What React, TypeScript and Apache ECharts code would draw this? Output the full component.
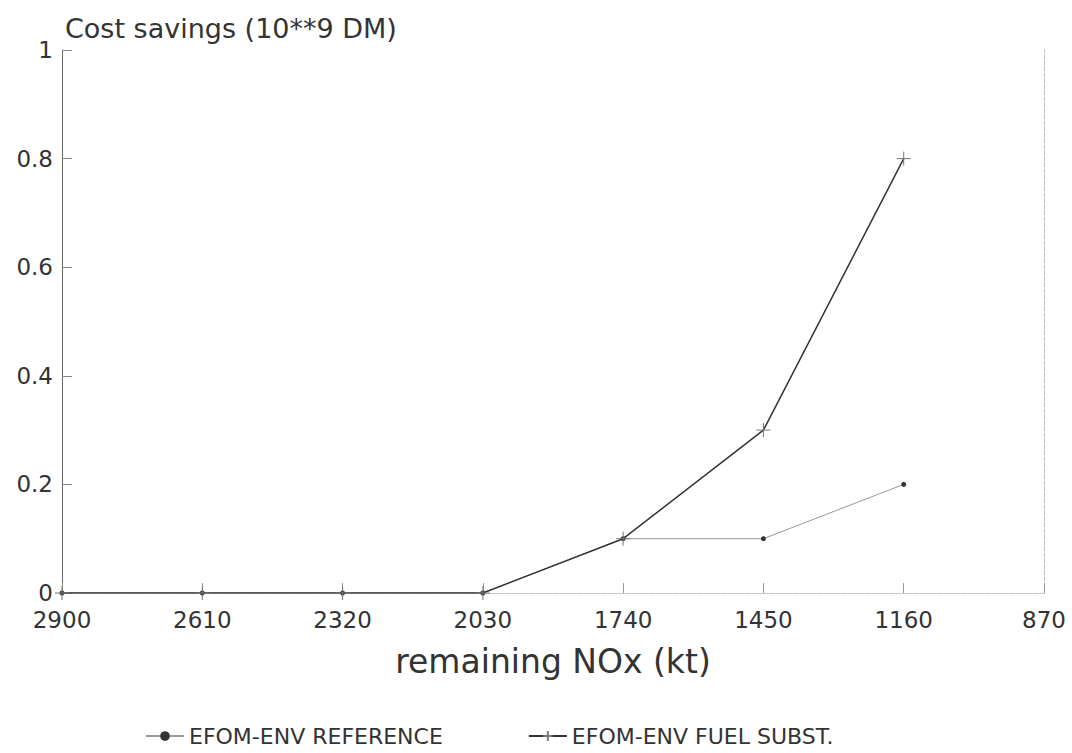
import React, { useEffect, useRef } from "react";
import * as echarts from "echarts";

const noxKt = [2900, 2610, 2320, 2030, 1740, 1450, 1160];
const referenceSavings = [0, 0, 0, 0, 0.1, 0.1, 0.2];
const fuelSubstSavings = [0, 0, 0, 0, 0.1, 0.3, 0.8];
const seriesNames = ["EFOM-ENV REFERENCE", "EFOM-ENV FUEL SUBST."];
const yTitle = "Cost savings (10**9 DM)";
const xTitle = "remaining NOx (kt)";

const FONT = "'DejaVu Sans', 'Liberation Sans', sans-serif";
const TXT = "#333";

export default function App() {
  const ref = useRef<HTMLDivElement>(null);
  useEffect(() => {
    document.body.style.margin = "0";
    const chart = echarts.init(ref.current!, null, { renderer: "svg" });
    const plus = "path://M5,0L5,10M0,5L10,5";
    chart.setOption({
      animation: false,
      backgroundColor: "#ffffff",
      title: {
        text: yTitle,
        left: 60,
        top: 10,
        textStyle: { fontFamily: FONT, fontSize: 27, fontWeight: "normal", color: TXT },
      },
      grid: { left: 62, right: 28, top: 50, bottom: 160, containLabel: false },
      legend: {
        top: 720,
        left: 140,
        itemWidth: 38,
        itemHeight: 12,
        itemGap: 85,
        textStyle: { fontFamily: FONT, fontSize: 22, color: TXT },
        data: seriesNames,
      },
      xAxis: [
        {
          type: "value",
          inverse: true,
          min: 870,
          max: 2900,
          interval: 290,
          name: xTitle,
          nameLocation: "middle",
          nameGap: 52,
          nameTextStyle: { fontFamily: FONT, fontSize: 33, color: TXT },
          axisLine: { show: true, lineStyle: { color: "#aaa", type: "dashed", width: 1 } },
          axisTick: { show: true, inside: true, length: 10, lineStyle: { color: "#999" } },
          axisLabel: {
            fontFamily: FONT,
            fontSize: 23,
            color: TXT,
            margin: 15,
            formatter: (v: number) => String(v),
          },
          splitLine: { show: false },
        },
        {
          type: "value",
          position: "top",
          inverse: true,
          min: 870,
          max: 2900,
          interval: 290,
          axisLine: { show: true, lineStyle: { color: "#c8c8c8", type: "dashed", width: 1 } },
          axisTick: { show: false },
          axisLabel: { show: false },
          splitLine: { show: false },
        },
      ],
      yAxis: [
        {
          type: "value",
          min: 0,
          max: 1,
          interval: 0.2,
          axisLine: { show: true, lineStyle: { color: "#666", width: 1 } },
          axisTick: { show: true, inside: true, length: 10, lineStyle: { color: "#888" } },
          axisLabel: { fontFamily: FONT, fontSize: 23, color: TXT, margin: 9 },
          splitLine: { show: false },
        },
        {
          type: "value",
          position: "right",
          min: 0,
          max: 1,
          interval: 0.2,
          axisLine: { show: true, lineStyle: { color: "#bbb", type: "dashed", width: 1 } },
          axisTick: { show: false },
          axisLabel: { show: false },
          splitLine: { show: false },
        },
      ],
      series: [
        {
          name: seriesNames[0],
          type: "line",
          data: noxKt.map((x, i) => [x, referenceSavings[i]]),
          symbol: "circle",
          symbolSize: 5,
          showSymbol: true,
          lineStyle: { color: "#9a9a9a", width: 1 },
          itemStyle: { color: "#333" },
          z: 2,
        },
        {
          name: seriesNames[1],
          type: "line",
          data: noxKt.map((x, i) => [x, fuelSubstSavings[i]]),
          symbol: plus,
          symbolSize: 14,
          showSymbol: true,
          lineStyle: { color: "#333", width: 1.5 },
          itemStyle: { color: "rgba(0,0,0,0)", borderColor: "#777", borderWidth: 1 },
          z: 3,
        },
      ],
    });
    return () => chart.dispose();
  }, []);
  return <div ref={ref} style={{ width: 1072, height: 753 }} />;
}
